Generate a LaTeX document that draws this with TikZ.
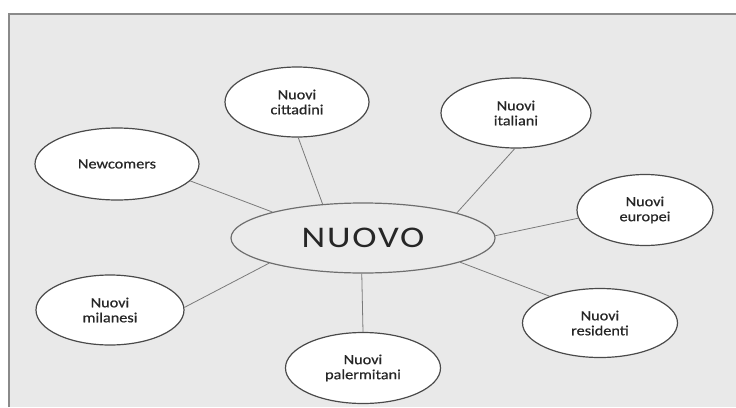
\documentclass[tikz,border=0pt]{standalone}
\usepackage{fontspec}
\usepackage{xcolor}
\usepackage{tikz}
\usetikzlibrary{shapes.geometric}
\newfontfamily\bublfont[FakeStretch=1.16, FakeBold=0.6]{Carlito}
\newfontfamily\jadrofont[FakeStretch=1.22, LetterSpace=6]{Carlito}
\definecolor{papergray}{HTML}{E9E9E9}
\definecolor{ramgray}{HTML}{8A8A8A}
\definecolor{okraj}{HTML}{4A4A4A}
\definecolor{spojka}{HTML}{7A7A7A}

\begin{document}
\begin{tikzpicture}[x=1pt, y=-1pt,
  bublina/.style={ellipse, draw=okraj, line width=1.2pt, fill=white, inner sep=0pt,
    align=center, text=black!85, font=\bublfont\fontsize{14}{15}\selectfont},
  spoj/.style={draw=spojka, line width=0.8pt}]
  % Pozadi a ramecek
  \useasboundingbox (0, 0) rectangle (736, 407);
  \fill[white] (0, 0) rectangle (736, 407);
  \fill[papergray] (9, 14) rectangle (736, 407);
  \draw[ramgray, line width=1.6pt] (9, 407) -- (9, 14) -- (736, 14);

  % Stredni pojem
  \node[ellipse, draw=okraj!80, line width=1.2pt, fill=black!8, inner sep=0pt,
    minimum width=264, minimum height=70, text=black!85,
    font=\jadrofont\fontsize{30}{32}\selectfont] (nuovo) at (363, 238) {NUOVO};

  % Okolni bubliny
  \node[bublina, minimum width=164, minimum height=72] (newc) at (117, 164) {Newcomers};
  \node[bublina, minimum width=144, minimum height=70] (citt) at (297, 102) {Nuovi\\cittadini};
  \node[bublina, minimum width=150, minimum height=70] (ital) at (516, 113) {Nuovi\\italiani};
  \node[bublina, minimum width=136, minimum height=71] (euro) at (645, 210) {Nuovi\\europei};
  \node[bublina, minimum width=148, minimum height=70] (mila) at (110, 310) {Nuovi\\milanesi};
  \node[bublina, minimum width=155, minimum height=71] (pale) at (363, 368) {Nuovi\\palermitani};
  \node[bublina, minimum width=155, minimum height=69] (resi) at (600, 323) {Nuovi\\residenti};

  % Spojnice
  \draw[spoj] (newc.-13) -- (nuovo.164);
  \draw[spoj] (citt.-88) -- (nuovo.140);
  \draw[spoj] (ital.-92) -- (nuovo.15);
  \draw[spoj] (euro.187) -- (nuovo.1);
  \draw[spoj] (resi.152) -- (nuovo.-14);
  \draw[spoj] (pale.90) -- (nuovo.-92);
  \draw[spoj] (mila.2) -- (nuovo.195);
\end{tikzpicture}
\end{document}
